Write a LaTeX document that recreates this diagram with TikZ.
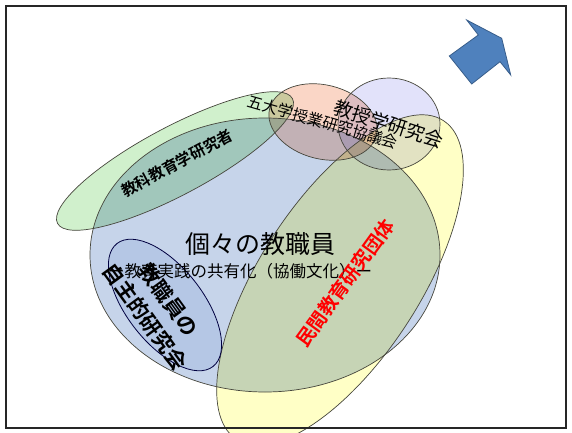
\documentclass[tikz,border=0pt]{standalone}
\usepackage{fontspec}
\newfontfamily\jp{Noto Sans CJK JP}
\newfontfamily\jpb{Noto Sans CJK JP Bold}
\definecolor{bluef}{RGB}{198,212,234}
\definecolor{yellowf}{RGB}{255,255,198}
\definecolor{greenf}{RGB}{208,240,204}
\definecolor{orangef}{RGB}{250,214,198}
\definecolor{lavf}{RGB}{226,226,250}
\definecolor{smallf}{RGB}{234,240,250}
\definecolor{edge}{RGB}{70,70,60}
\definecolor{arrowf}{RGB}{79,129,189}
\definecolor{arrowe}{RGB}{56,93,138}
\begin{document}
\begin{tikzpicture}[x=1pt,y=-1pt,
  outl/.style={draw=edge,line width=0.7pt},
  lbl/.style={inner sep=0pt,font=\jp,text=black},
  lblb/.style={inner sep=0pt,font=\jpb,text=black}]
\useasboundingbox (0,0) rectangle (572,433);
% fills
\begin{scope}[blend mode=multiply]
  \fill[bluef] (265,255) ellipse [x radius=175pt, y radius=137pt];
  \fill[greenf,rotate around={28:(175,161)}] (175,161) ellipse [x radius=133pt, y radius=34pt];
  \fill[orangef,rotate around={-14:(323,122)}] (323,122) ellipse [x radius=55pt, y radius=37pt];
  \fill[lavf] (389,124) ellipse [x radius=51pt, y radius=46pt];
  \fill[yellowf,rotate around={57:(340,280)}] (340,280) ellipse [x radius=190pt, y radius=80pt];
  \fill[smallf,rotate around={-52:(165,305)}] (165,305) ellipse [x radius=78pt, y radius=38pt];
\end{scope}
% outlines
\draw[outl] (265,255) ellipse [x radius=175pt, y radius=137pt];
\draw[outl,rotate around={28:(175,161)}] (175,161) ellipse [x radius=133pt, y radius=34pt];
\draw[outl,rotate around={-14:(323,122)}] (323,122) ellipse [x radius=55pt, y radius=37pt];
\draw[outl] (389,124) ellipse [x radius=51pt, y radius=46pt];
\draw[outl,rotate around={57:(340,280)}] (340,280) ellipse [x radius=190pt, y radius=80pt];
\draw[draw=black!75!blue,line width=0.8pt,rotate around={-52:(165,305)}] (165,305) ellipse [x radius=78pt, y radius=38pt];
% arrow
\draw[fill=arrowf,draw=arrowe,line width=0.8pt,line join=miter]
  (466.7,20) -- (501.7,38.3) -- (510.7,75) -- (500,61.7) -- (471.7,84) -- (449.3,56) -- (478.3,35) -- cycle;
% labels
\node[lblb,font=\jpb\fontsize{15.5}{16}\selectfont,rotate=28] (kyoka) at (177,163) {教科教育学研究者};
\node[lbl,font=\jp\fontsize{15.5}{16}\selectfont,rotate=-16] (godai) at (323,122) {五大学授業研究協議会};
\node[lbl,font=\jp\fontsize{19}{20}\selectfont,rotate=-18] (kyoju) at (389,124) {教授学研究会};
\node[lbl,font=\jp\fontsize{25}{26}\selectfont] (kojin) at (260,244) {個々の教職員};
\node[lbl,font=\jp\fontsize{16.5}{17}\selectfont] (kyoyu) at (240,271) {ー教育実践の共有化（協働文化）ー};
\node[lblb,font=\jpb\fontsize{21}{29}\selectfont,rotate=-54,align=center] (jishu) at (157,308) {教職員の\\自主的研究会};
\node[lblb,font=\jpb\fontsize{19}{20}\selectfont,text=red,rotate=54] (minkan) at (345,283) {民間教育研究団体};
% frame
\draw[line width=2pt,draw=black!85] (6,6) rectangle (566,428);
\end{tikzpicture}
\end{document}
